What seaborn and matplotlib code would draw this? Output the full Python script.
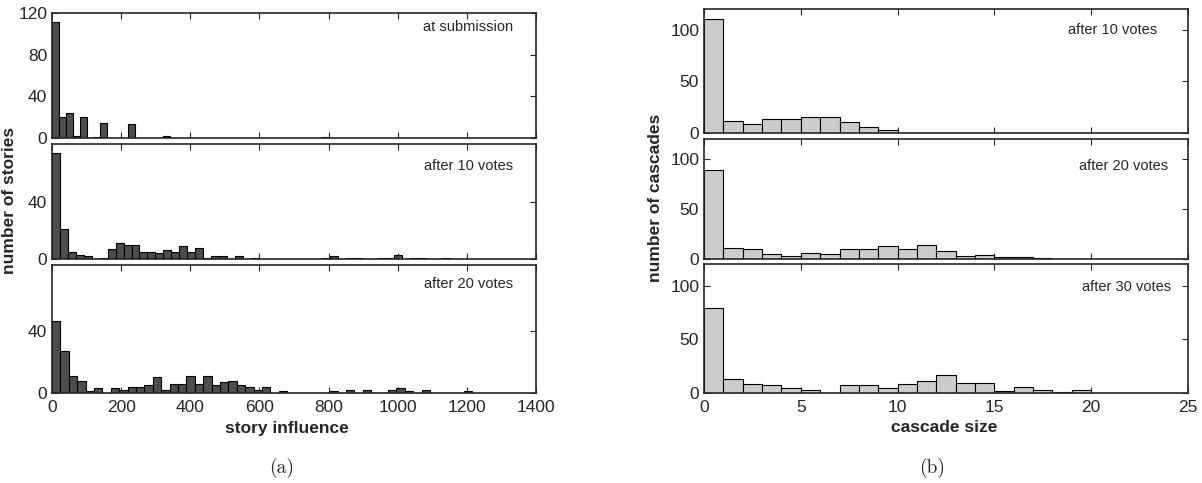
import numpy as np
import pandas as pd
import matplotlib
matplotlib.use("Agg")
import matplotlib.pyplot as plt
import seaborn as sns

# story influence histograms (bin widths)
sub_width = 20
sub_counts = [111, 20, 24, 2, 20, 0, 1, 14, 0, 0, 0, 13, 0, 0, 0, 0, 2, 0, 0, 0,
              0, 0, 0, 0, 0, 0, 0, 0, 0, 0, 0, 0, 0, 0, 0, 0, 0, 0, 0, 1]

v10_width = 23
v10_counts = [74, 21, 5, 3, 2, 0, 1, 7, 11, 10, 10, 5, 5, 4, 6, 5, 9, 5, 8, 1,
              2, 2, 0, 2, 0, 1, 0, 0, 0, 0, 0, 0, 0, 0, 1, 2, 0, 1, 1, 0,
              0, 1, 1, 3, 0, 1, 1, 0, 0, 1]

v20_width = 24.3
v20_counts = [46, 27, 11, 8, 1, 3, 0, 3, 2, 4, 4, 5, 10, 2, 6, 6, 11, 6, 11, 5,
              7, 8, 5, 4, 2, 4, 0, 1, 0, 0, 0, 0, 0, 1, 0, 2, 0, 2, 0, 0,
              2, 3, 1, 0, 2, 0, 0, 0, 0, 1]

# cascade size histograms (unit bins)
c10_counts = [110, 12, 9, 14, 14, 15, 15, 11, 6, 3]
c20_counts = [89, 11, 10, 5, 3, 6, 5, 10, 10, 13, 10, 14, 8, 3, 4, 2, 2, 1]
c30_counts = [79, 13, 8, 7, 5, 3, 0, 7, 7, 5, 8, 11, 17, 9, 9, 2, 6, 3, 1, 3]

left_labels = ["at submission", "after 10 votes", "after 20 votes"]
right_labels = ["after 10 votes", "after 20 votes", "after 30 votes"]

sns.set_style("ticks")
plt.rcParams["font.family"] = ["Liberation Sans", "DejaVu Sans"]
plt.rcParams["xtick.direction"] = "in"
plt.rcParams["ytick.direction"] = "in"
plt.rcParams["xtick.top"] = True
plt.rcParams["ytick.right"] = True
plt.rcParams["axes.linewidth"] = 1.2
plt.rcParams["xtick.major.size"] = 4
plt.rcParams["ytick.major.size"] = 4
plt.rcParams["xtick.major.pad"] = 5
plt.rcParams["ytick.major.pad"] = 3.5
plt.rcParams["xtick.labelsize"] = 12.5
plt.rcParams["ytick.labelsize"] = 12.5

W, H = 1202, 483
fig = plt.figure(figsize=(W / 100, H / 100), dpi=100)


def add_ax(x0, x1, y0, y1):
    # pixel box -> figure fraction
    return fig.add_axes([x0 / W, 1 - y1 / H, (x1 - x0) / W, (y1 - y0) / H])


def draw_hist(ax, counts, width, color):
    edges = [k * width for k in range(len(counts) + 1)]
    df = pd.DataFrame({"x": [e + width / 2 for e in edges[:-1]], "n": counts})
    sns.histplot(data=df, x="x", weights="n", bins=edges, color=color,
                 edgecolor="black", linewidth=0.8, alpha=1, ax=ax)
    ax.set_xlabel("")
    ax.set_ylabel("")


# left column
left_boxes = [(13, 138), (144, 259), (265, 393)]
left_data = [(sub_counts, sub_width), (v10_counts, v10_width), (v20_counts, v20_width)]
left_ylim = [(0, 120), (0, 80), (0, 82)]
left_yticks = [[0, 40, 80, 120], [0, 40], [0, 40]]
left_txt_y = [0.89, 0.81, 0.85]
for i in range(3):
    ax = add_ax(52, 536, *left_boxes[i])
    counts, width = left_data[i]
    draw_hist(ax, counts, width, "#4d4d4d")
    ax.set_xlim(0, 1400)
    ax.set_xticks(range(0, 1401, 200))
    ax.set_ylim(*left_ylim[i])
    ax.set_yticks(left_yticks[i])
    if i < 2:
        ax.set_xticklabels([])
    ax.text(0.952, left_txt_y[i], left_labels[i], transform=ax.transAxes,
            ha="right", va="center", fontsize=10.5)

# right column
right_boxes = [(9, 133), (139, 259), (264, 393)]
right_data = [c10_counts, c20_counts, c30_counts]
right_txt = [(0.936, 0.83), (0.959, 0.777), (0.965, 0.82)]
for i in range(3):
    ax = add_ax(704, 1188, *right_boxes[i])
    draw_hist(ax, right_data[i], 1, "#cccccc")
    ax.set_xlim(0, 25)
    ax.set_xticks(range(0, 26, 5))
    ax.set_ylim(0, 120)
    ax.set_yticks([0, 50, 100])
    if i < 2:
        ax.set_xticklabels([])
    ax.text(right_txt[i][0], right_txt[i][1], right_labels[i], transform=ax.transAxes,
            ha="right", va="center", fontsize=10.5)

fig.text(10 / W, 1 - 200 / H, "number of stories", rotation=90, ha="center",
         va="center", fontsize=12.5, fontweight="bold")
fig.text(655 / W, 1 - 198 / H, "number of cascades", rotation=90, ha="center",
         va="center", fontsize=12.5, fontweight="bold")
fig.text(287 / W, 1 - 428 / H, "story influence", ha="center", va="center",
         fontsize=12.5, fontweight="bold")
fig.text(944 / W, 1 - 428 / H, "cascade size", ha="center", va="center",
         fontsize=12.5, fontweight="bold")
fig.text(282 / W, 1 - 468 / H, "(a)", ha="center", va="center",
         fontsize=14, family="cmr10")
fig.text(932 / W, 1 - 468 / H, "(b)", ha="center", va="center",
         fontsize=14, family="cmr10")

fig.savefig("out.png", dpi=100)
